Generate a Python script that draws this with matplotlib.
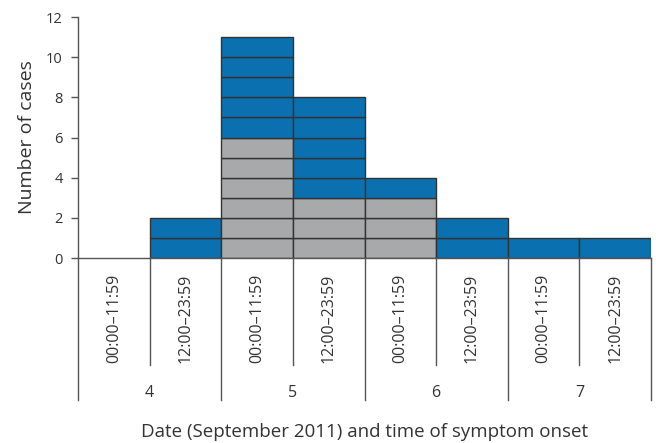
import matplotlib
matplotlib.use("Agg")
import matplotlib.pyplot as plt

# cases per half-day slot (each case drawn as one box)
slots = ["00:00\u201311:59", "12:00\u201323:59"] * 4
days = ["4", "5", "6", "7"]
grey_cases = [0, 0, 6, 3, 3, 0, 0, 0]
blue_cases = [0, 2, 5, 5, 1, 2, 1, 1]

plt.rcParams['font.family'] = ['Open Sans', 'DejaVu Sans']

fig = plt.figure(figsize=(6.56, 4.43), dpi=100)
ax = fig.add_axes([0.1189, 0.4176, 0.8735, 0.544])

edge = "#333333"
for i in range(len(slots)):
    for k in range(grey_cases[i]):
        ax.bar(i, 1, bottom=k, width=1, color="#a7a9aa", edgecolor=edge, linewidth=1)
    for k in range(blue_cases[i]):
        ax.bar(i, 1, bottom=grey_cases[i] + k, width=1, color="#0b70b0",
               edgecolor=edge, linewidth=1)

ax.set_xlim(-0.5, len(slots) - 0.5)
ax.set_ylim(0, 12)
ax.set_yticks(range(0, 13, 2))
ax.tick_params(axis="y", length=5, width=1, color="#555555", labelsize=10.5,
               labelcolor="#333333", pad=6)
ax.set_xticks([])
for s in ["top", "right", "left"]:
    ax.spines[s].set_visible(False)
ax.spines["bottom"].set_color("#555555")
ax.spines["bottom"].set_linewidth(1)
ax.set_ylabel("Number of cases", fontsize=14, color="#333333", labelpad=7)

trans = ax.get_xaxis_transform()
# left axis line running down through the category area
ax.plot([-0.5, -0.5], [-0.589, 1.0], transform=trans, color="#555555",
        lw=1, clip_on=False)
for i, lab in enumerate(slots):
    ax.text(i, -0.25, lab, transform=trans, rotation=90, ha="center",
            va="center", fontsize=11.5, color="#333333")
    if i > 0:
        low = -0.589 if i % 2 == 0 else -0.444
        ax.plot([i - 0.5, i - 0.5], [low, 0], transform=trans,
                color="#555555", lw=1, clip_on=False)
ax.plot([len(slots) - 0.5] * 2, [-0.589, 0], transform=trans,
        color="#555555", lw=1, clip_on=False)
for d, day in enumerate(days):
    ax.text(2 * d + 0.5, -0.56, day, transform=trans, ha="center",
            va="center", fontsize=11.5, color="#333333")

ax.text(3.5, -0.72, "Date (September 2011) and time of symptom onset",
        transform=trans, ha="center", va="center", fontsize=13.5, color="#333333")

fig.savefig("out.png", dpi=100)
